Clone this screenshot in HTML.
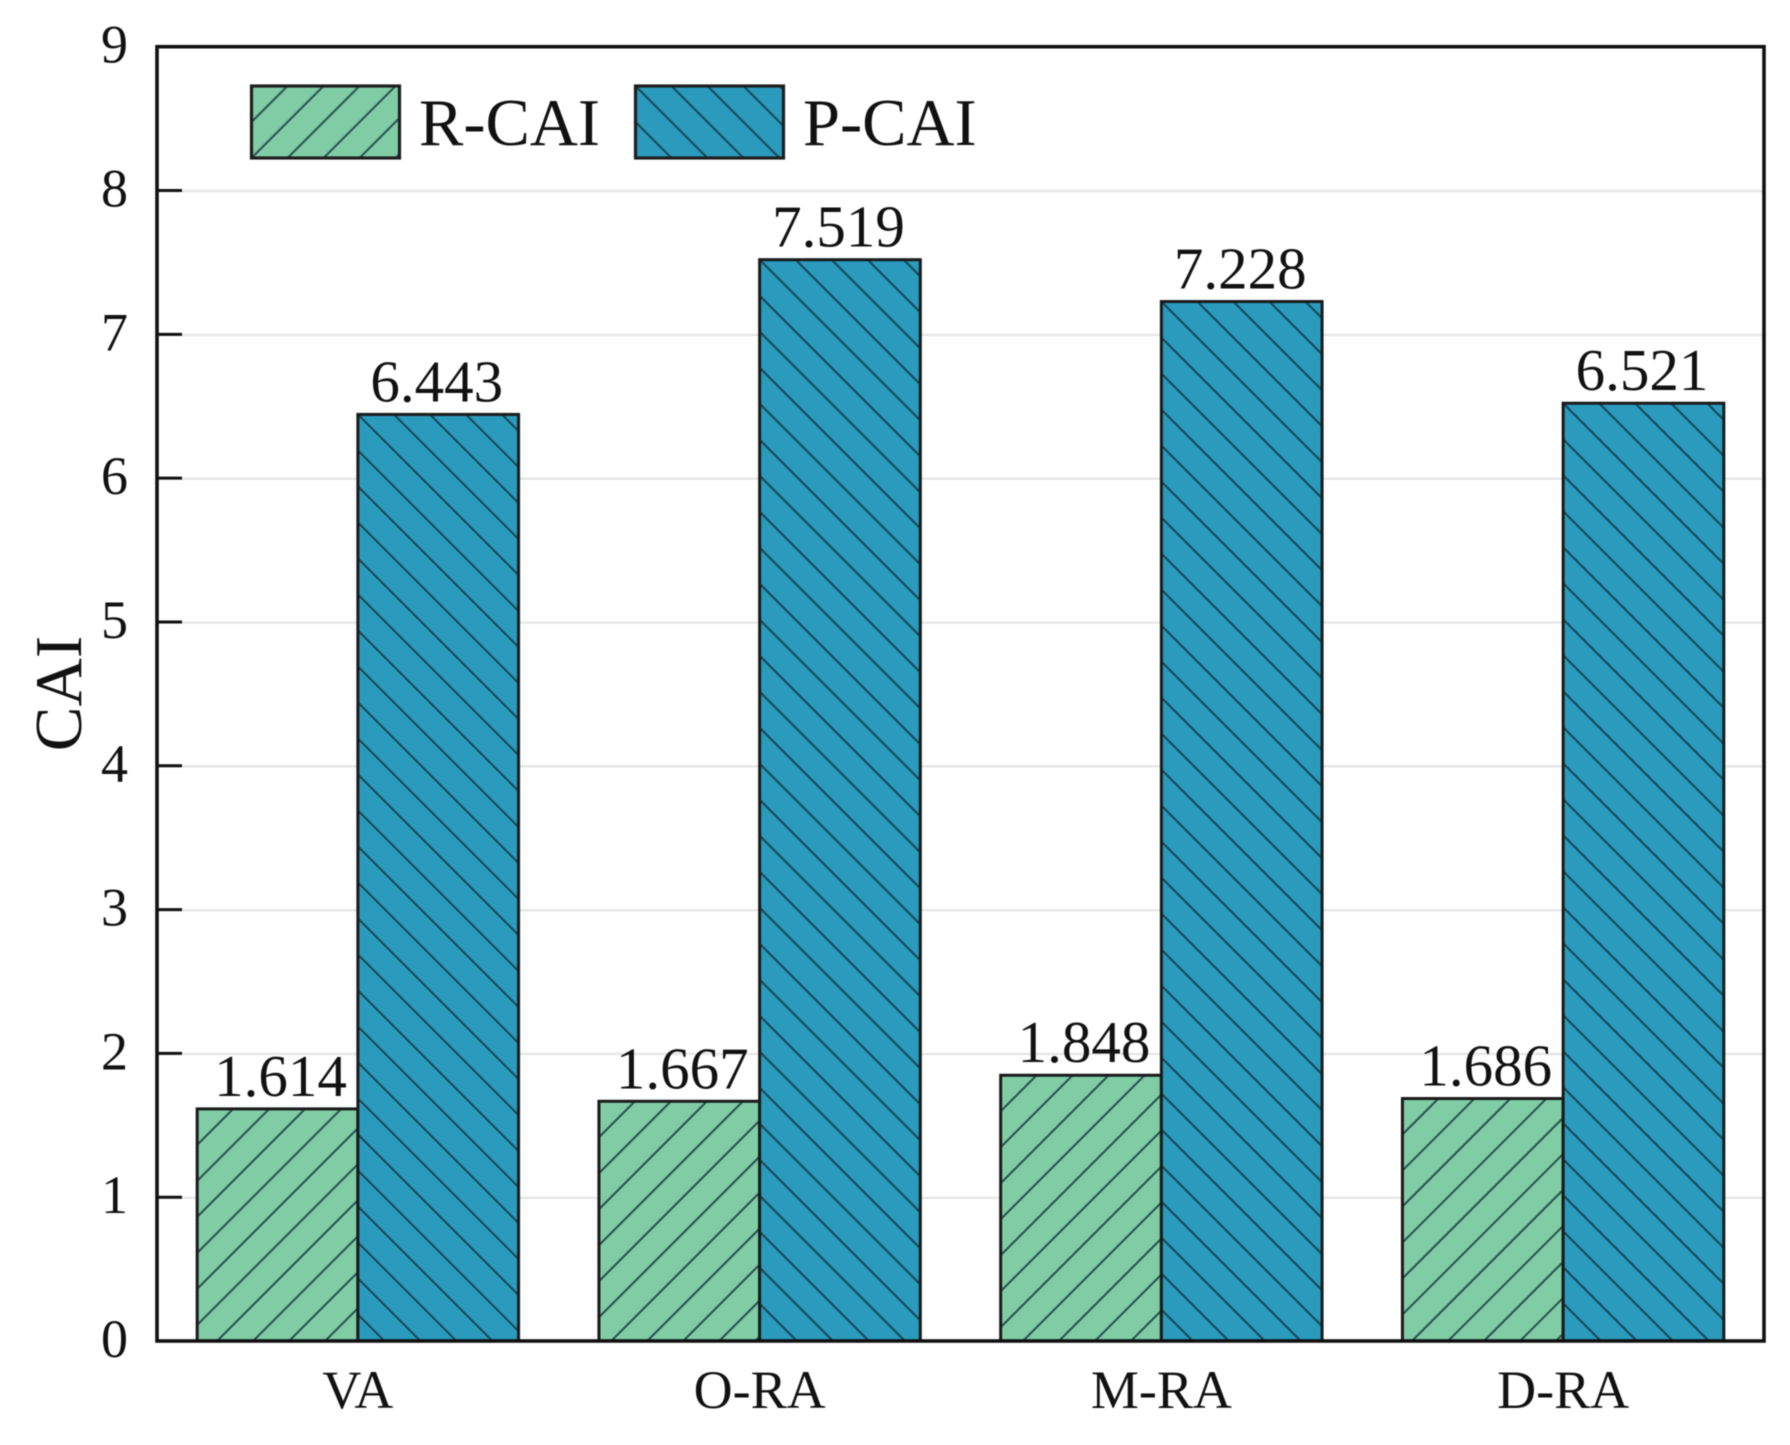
<!DOCTYPE html>
<html lang="en">
<head>
<meta charset="utf-8">
<title>CAI bar chart</title>
<style>
html,body{margin:0;padding:0;background:#fff;}
#chart{display:block;width:1790px;height:1445px;font-family:"Liberation Serif",serif;fill:#111;filter:blur(0.65px);}
</style>
</head>
<body>
<svg id="chart" xmlns="http://www.w3.org/2000/svg" width="1790" height="1445" viewBox="0 0 1790 1445"></svg>
<script>
const categories = ["VA", "O-RA", "M-RA", "D-RA"];
const rCai = [1.614, 1.667, 1.848, 1.686];
const pCai = [6.443, 7.519, 7.228, 6.521];
const rCaiLabels = ["1.614", "1.667", "1.848", "1.686"];
const pCaiLabels = ["6.443", "7.519", "7.228", "6.521"];
const yTicks = [0, 1, 2, 3, 4, 5, 6, 7, 8, 9];
const yMax = 9;

const NS = "http://www.w3.org/2000/svg";
const svg = document.getElementById("chart");
const plot = {left: 157, right: 1764, top: 46.7, bottom: 1341};
const GREEN = "#7fcca5", BLUE = "#2a9abd", EDGE = "#1a1a1a";
const TILE = 25.456;

function yScale(v) { return plot.bottom - (v / yMax) * (plot.bottom - plot.top); }
function bandWidth() { return (plot.right - plot.left) / categories.length; }
function xCenter(i) { return plot.left + bandWidth() * (i + 0.5); }

function make(tag, attrs, parent) {
  const n = document.createElementNS(NS, tag);
  for (const k in attrs) n.setAttribute(k, attrs[k]);
  (parent || svg).appendChild(n);
  return n;
}

// hatch patterns are anchored to the top-left corner of each box
const defs = make("defs", {});
function hatch(id, angle, x, y) {
  const p = make("pattern", {
    id: id, patternUnits: "userSpaceOnUse", width: TILE, height: TILE,
    patternTransform: "translate(" + x + "," + y + ") rotate(" + angle + ") translate(" + (-TILE / 2) + ",0)"
  }, defs);
  make("line", {x1: TILE / 2, y1: 0, x2: TILE / 2, y2: TILE, stroke: "#12303a", "stroke-width": 1.9, "stroke-opacity": 0.85}, p);
}

// gridlines
yTicks.forEach(function (t) {
  if (t === 0 || t === yMax) return;
  const g = make("line", {x1: plot.left, x2: plot.right, y1: yScale(t) + 0.6, y2: yScale(t) + 0.6, stroke: "#e6e6e6", "stroke-width": 2.4});
  
  
});

// bars
function drawBar(value, i, side, fill, angle, series) {
  const w = bandWidth() * 0.4;
  const x = side === 0 ? xCenter(i) - w : xCenter(i);
  const y = yScale(value);
  const h = plot.bottom - y;
  const patId = "hatch-" + series + "-" + i;
  hatch(patId, angle, x, y);
  const r = make("rect", {x: x, y: y, width: w, height: h, fill: fill});
  
  
  const o = make("rect", {x: x, y: y, width: w, height: h, fill: "url(#" + patId + ")", stroke: EDGE, "stroke-width": 3});
  
  
}
function drawValue(text, value, i, side, series) {
  const w = bandWidth() * 0.4;
  const cx = side === 0 ? xCenter(i) - w / 2 + 3 : xCenter(i) + w / 2 - 1.5;
  const t = make("text", {x: cx, y: yScale(value) - 13, "text-anchor": "middle", "font-size": 59});
  t.textContent = text;
  
  
}
categories.forEach(function (c, i) { drawBar(rCai[i], i, 0, GREEN, 45, "r-cai"); });
categories.forEach(function (c, i) { drawBar(pCai[i], i, 1, BLUE, -45, "p-cai"); });
categories.forEach(function (c, i) { drawValue(rCaiLabels[i], rCai[i], i, 0, "r-cai"); });
categories.forEach(function (c, i) { drawValue(pCaiLabels[i], pCai[i], i, 1, "p-cai"); });

// y ticks & labels
yTicks.forEach(function (t) {
  if (t !== 0 && t !== yMax) {
    const m = make("line", {x1: plot.left, x2: 182, y1: yScale(t), y2: yScale(t), stroke: "#111", "stroke-width": 3});
    
    
  }
  const l = make("text", {x: 128, y: yScale(t) + 16, "text-anchor": "end", "font-size": 54});
  l.textContent = String(t);
  
  
});

// x labels
categories.forEach(function (c, i) {
  const l = make("text", {x: xCenter(i), y: 1408, "text-anchor": "middle", "font-size": 54});
  l.textContent = c;
  
  
});

// frame
const frame = make("rect", {x: plot.left, y: plot.top, width: plot.right - plot.left, height: plot.bottom - plot.top, fill: "none", stroke: "#111", "stroke-width": 3.6});



// axis title
const yTitle = make("text", {transform: "translate(81,693.5) rotate(-90)", "text-anchor": "middle", "font-size": 67});
yTitle.textContent = "CAI";



// legend
hatch("hatch-legend-r", 45, 251.5, 86);
hatch("hatch-legend-p", -45, 635.5, 86);
const sw1 = make("rect", {x: 251.5, y: 86, width: 148, height: 72, fill: GREEN});


const sw1h = make("rect", {x: 251.5, y: 86, width: 148, height: 72, fill: "url(#hatch-legend-r)", stroke: "#1f1f1f", "stroke-width": 3.2});


const lg1 = make("text", {x: 419, y: 145, "font-size": 66.5});
lg1.textContent = "R-CAI";


const sw2 = make("rect", {x: 635.5, y: 86, width: 148, height: 72, fill: BLUE});


const sw2h = make("rect", {x: 635.5, y: 86, width: 148, height: 72, fill: "url(#hatch-legend-p)", stroke: "#1f1f1f", "stroke-width": 3.2});


const lg2 = make("text", {x: 803, y: 145, "font-size": 66.5});
lg2.textContent = "P-CAI";


</script>
</body>
</html>
